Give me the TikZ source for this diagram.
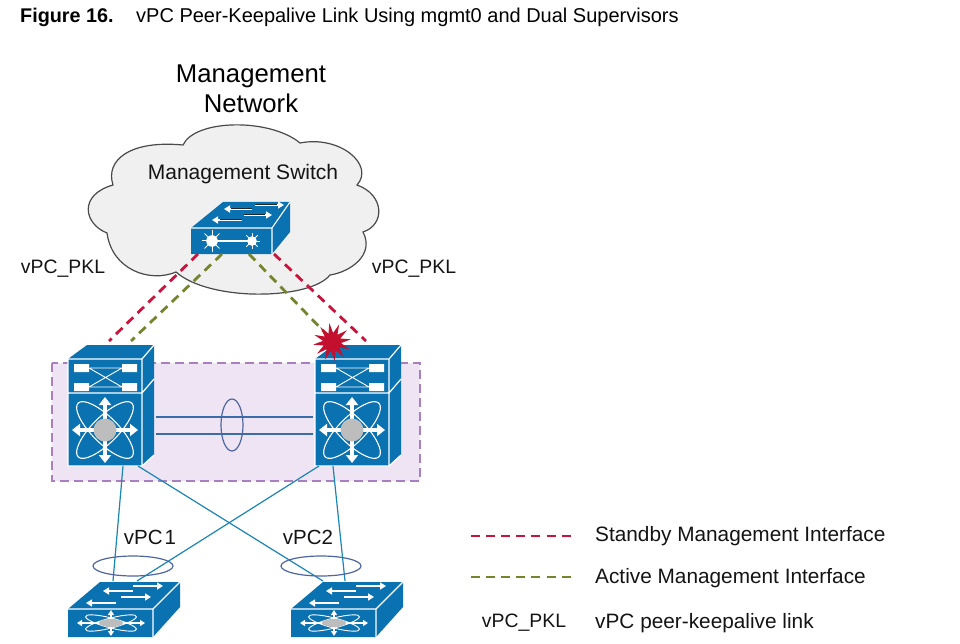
\documentclass[tikz,border=0pt]{standalone}
\usepackage{fontspec}
\setmainfont{Liberation Sans}
\usetikzlibrary{arrows.meta,shapes.geometric}
\definecolor{ciscoblue}{HTML}{0A72B0}
\definecolor{standbyred}{HTML}{C8143C}
\definecolor{activegreen}{HTML}{76842E}
\definecolor{zonefill}{HTML}{EFE4F3}
\definecolor{zoneedge}{HTML}{A97FC0}
\definecolor{cloudfill}{HTML}{F0F0F0}
\definecolor{cloudedge}{HTML}{4A4A4A}
\definecolor{linkteal}{HTML}{1B86B4}
\definecolor{linkblue}{HTML}{3A6CA8}
\definecolor{ringblue}{HTML}{4E66A0}
\definecolor{hubgray}{HTML}{BDBDBD}
\definecolor{starred}{HTML}{C4102F}
\tikzset{
  x=1pt,y=-1pt,
  label text/.style={inner sep=0pt,text=black!92},
  standby/.style={standbyred,line width=2.8pt,dash pattern=on 9pt off 6.1pt},
  active/.style={activegreen,line width=2.8pt,dash pattern=on 9pt off 6.1pt},
  flat arrow/.style={white,line width=2pt,-{Triangle[width=7pt,length=6pt]}},
  star arrow/.style={white,line width=3.4pt,-{Triangle[width=12pt,length=8pt]}},
  trunk/.style={linkblue,line width=1.2pt},
  access/.style={linkteal,line width=1.2pt},
  ring/.style={ringblue,line width=1.2pt},
  % modular chassis: supervisor panel above, fabric star below
  chassis/.pic={
    \fill[ciscoblue] (0,0) -- (19,-14) -- (86,-14) -- (86,96) -- (74,107) -- (0,107) -- cycle;
    \draw[white,line width=1.2pt] (0,0) rectangle (74,107) (0,34) -- (74,34)
       (74,0) -- (86,-14) (74,34) -- (86,20) (74,107) -- (86,96);
    \fill[white] (6,5) rectangle (21,13) (54,5) rectangle (69,13)
                 (6,24) rectangle (21,32) (54,24) rectangle (69,32);
    \draw[white,line width=0.9pt] (21,9) -- (54,9) (21,28) -- (54,28) (21,9) -- (54,28) (21,28) -- (54,9);
    \draw[white,line width=1.1pt] (37,71) ellipse [x radius=38,y radius=13,rotate=45]
                                  (37,71) ellipse [x radius=38,y radius=13,rotate=-45];
    \foreach \dx/\dy in {33/0,-33/0,0/33,0/-33}
      \draw[star arrow] (37,71) -- ++(\dx,\dy);
    \fill[hubgray] (37,71) circle [radius=11.5pt];
    \coordinate (-bl) at (55,107);
    \coordinate (-br) at (70,107);
    \coordinate (-al) at (4,107);
    \coordinate (-ar) at (18,107);
    \coordinate (-e1) at (88,58);
    \coordinate (-e2) at (88,75);
    \coordinate (-w1) at (-2,58);
    \coordinate (-w2) at (-2,75);
  },
  % access switch with a flattened fabric star on its front
  accessswitch/.pic={
    \fill[ciscoblue] (0,0) -- (32,-27) -- (112,-27) -- (112,-2) -- (85,28) -- (0,28) -- cycle;
    \draw[white,line width=1.1pt] (0,0) -- (85,0) -- (85,28) (85,0) -- (112,-27);
    \draw[flat arrow] (65,-18) -- (35,-18);
    \draw[flat arrow] (65,-23) -- (95,-23);
    \draw[flat arrow] (48,-6) -- (18,-6);
    \draw[flat arrow] (53,-12) -- (83,-12);
    \begin{scope}[shift={(43,14)}]
      \begin{scope}[yscale=0.32]
        \draw[white,line width=0.9pt] (0,0) ellipse [x radius=34,y radius=12,rotate=45]
                                      (0,0) ellipse [x radius=34,y radius=12,rotate=-45];
      \end{scope}
      \foreach \dx/\dy in {34/0,-34/0,0/13,0/-13}
        \draw[white,line width=1.6pt,-{Triangle[width=6pt,length=5pt]}] (0,0) -- ++(\dx,\dy);
      \fill[hubgray] (0,0) ellipse [x radius=12,y radius=4];
    \end{scope}
    \coordinate (-ta) at (45,-28);
    \coordinate (-tb) at (69,-28);
    \coordinate (-tc) at (32,-28);
    \coordinate (-td) at (54,-28);
  },
  % management switch: two burst icons joined by a bar
  mgmtswitch/.pic={
    \fill[ciscoblue] (0,0) -- (32,-26) -- (99,-26) -- (99,4) -- (81,26) -- (0,26) -- cycle;
    \draw[white,line width=1.1pt] (0,0) -- (81,0) -- (81,26) (81,0) -- (99,-26);
    \foreach \xa/\xb/\yy in {61/33/-19,64/93/-23,51/21/-8,53/81/-13}{
      \draw[flat arrow] (\xa,\yy) -- (\xb,\yy);
      \draw[black!85,line width=1pt] (\xa,\yy) -- ({\xb+(\xa-\xb)*0.25},\yy);
    }
    \draw[white,line width=2.2pt] (21,13) -- (61,13);
    \fill[white] (21,13) circle [radius=5.8pt] (61,13) circle [radius=4.8pt];
    \foreach \a in {0,45,...,315}{
      \draw[white,line width=1pt] (21,13) -- ++(\a:10.5);
      \draw[white,line width=0.9pt] (61,13) -- ++(\a:8);
    }
    \coordinate (-rl) at (7,26);
    \coordinate (-gl) at (31,26);
    \coordinate (-gr) at (58,26);
    \coordinate (-rr) at (83,26);
  }
}
\begin{document}
\begin{tikzpicture}
\useasboundingbox (0,0) rectangle (960,644);
\fill[white] (0,0) rectangle (960,644);

% caption
\node[anchor=base west,inner sep=0pt,font=\bfseries\fontsize{19.8}{22}\selectfont] (figno) at (20,23) {Figure 16.};
\node[anchor=base west,inner sep=0pt,font=\fontsize{20}{22}\selectfont] (caption) at (136,23) {vPC Peer-Keepalive Link Using mgmt0 and Dual Supervisors};

% peer domain zone
\draw[fill=zonefill,draw=zoneedge,line width=2.5pt,dash pattern=on 9pt off 5pt]
  (52,363) rectangle (420,481);

% management cloud
\draw[fill=cloudfill,draw=cloudedge,line width=1.2pt]
  (176,272) .. controls (150,283) and (112,270) .. (107,233)
  .. controls (84,224) and (78,195) .. (113,185)
  .. controls (105,160) and (130,140) .. (183,145)
  .. controls (195,119) and (270,118) .. (300,143)
  .. controls (340,135) and (375,165) .. (357,185)
  .. controls (385,195) and (385,225) .. (363,232)
  .. controls (375,255) and (350,272) .. (330,275)
  .. controls (310,300) and (210,302) .. (176,272) -- cycle;

\node[inner sep=0pt,align=center,font=\fontsize{25.7}{30}\selectfont] (mgmtnet) at (251,88.5) {Management\\Network};
\node[label text,font=\fontsize{21}{24}\selectfont] (mgmtlabel) at (243,174) {Management Switch};

\coordinate (lt) at (109,341);
\coordinate (lg) at (131,341);
\coordinate (rg) at (333,341);
\coordinate (rt) at (366,341);

\pic (ms) at (191,228) {mgmtswitch};

% keepalive paths
\draw[standby] (ms-rl) -- (lt);
\draw[active] (ms-gl) -- (lg);
\draw[active] (ms-gr) -- (rg);
\draw[standby] (ms-rr) -- (rt);

\pic (ca) at (68,359) {chassis};
\pic (cb) at (315,359) {chassis};

\node[star,star points=12,star point ratio=2.1,minimum size=38pt,inner sep=0pt,fill=starred,rotate=8] (fault) at (332,342) {};

% peer link
\draw[trunk] (ca-e1) -- (cb-w1);
\draw[trunk] (ca-e2) -- (cb-w2);
\node[ring,draw,ellipse,minimum width=22pt,minimum height=52pt,inner sep=0pt] (peerring) at (232,425) {};

\pic (sa) at (68,609) {accessswitch};
\pic (sb) at (291,609) {accessswitch};

% member links
\draw[access] (ca-bl) -- (sa-ta);
\draw[access] (ca-br) -- (sb-tc);
\draw[access] (cb-al) -- (sa-tb);
\draw[access] (cb-ar) -- (sb-td);
\node[ring,draw,ellipse,minimum width=80pt,minimum height=20pt,inner sep=0pt] (ringa) at (133,566) {};
\node[ring,draw,ellipse,minimum width=80pt,minimum height=20pt,inner sep=0pt] (ringb) at (321,566) {};

\node[label text,font=\fontsize{20.5}{24}\selectfont] (vpca) at (150,537) {vPC\hspace{2pt}1};
\node[label text,font=\fontsize{20.5}{24}\selectfont] (vpcb) at (308,537) {vPC2};

\node[label text,font=\fontsize{19.4}{22}\selectfont] (pkla) at (63,269) {vPC\_PKL};
\node[label text,font=\fontsize{19.4}{22}\selectfont] (pklb) at (414,269) {vPC\_PKL};

% legend
\coordinate (k1a) at (471,536);
\coordinate (k1b) at (571,536);
\coordinate (k2a) at (471,577);
\coordinate (k2b) at (571,577);
\draw[standby] (k1a) -- (k1b);
\draw[active] (k2a) -- (k2b);
\node[label text,anchor=west,font=\fontsize{20.8}{24}\selectfont] (k1t) at (595,536) {Standby Management Interface};
\node[label text,anchor=west,font=\fontsize{20.8}{24}\selectfont] (k2t) at (595,578) {Active Management Interface};
\node[label text,anchor=west,font=\fontsize{20.8}{24}\selectfont] (k3t) at (595,623) {vPC peer-keepalive link};
\node[label text,font=\fontsize{19.4}{22}\selectfont] (k3k) at (524,623) {vPC\_PKL};
\end{tikzpicture}
\end{document}
